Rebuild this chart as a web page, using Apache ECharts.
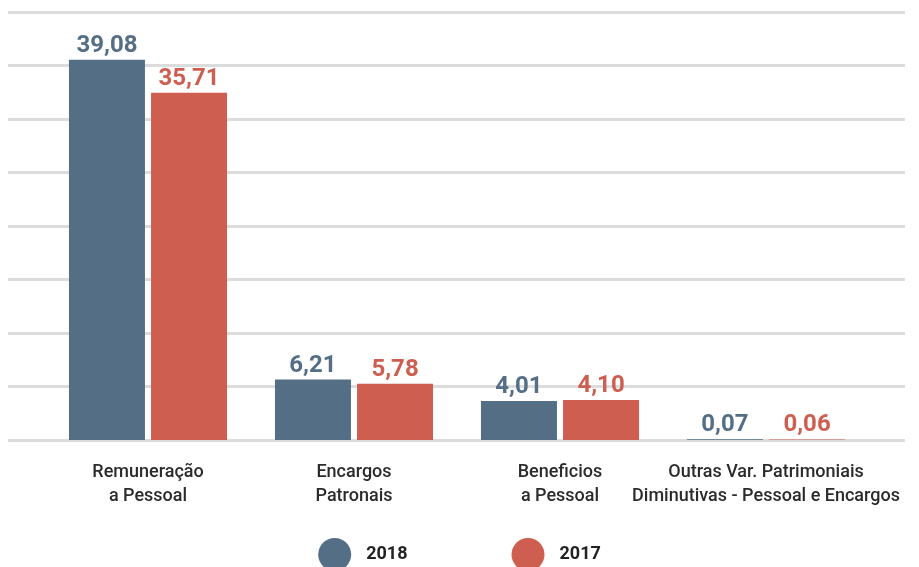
<!DOCTYPE html>
<html>
<head>
<meta charset="utf-8">
<script src="https://cdn.jsdelivr.net/npm/echarts@6/dist/echarts.min.js"></script>
<style>
  html, body { margin: 0; padding: 0; background: #fff; }
  #chart { width: 919px; height: 567px; }
</style>
</head>
<body>
<div id="chart"></div>
<script>
// categorias e valores (R$ bilhões)
var categorias = [
    'Remuneração\na Pessoal',
    'Encargos\nPatronais',
    'Beneficios\na Pessoal',
    'Outras Var. Patrimoniais\nDiminutivas - Pessoal e Encargos'
];
var anos = ['2018', '2017'];
var valores2018 = [39.08, 6.21, 4.01, 0.07];
var valores2017 = [35.71, 5.78, 4.10, 0.06];

var azul = '#546e86';
var vermelho = '#cd5e50';

function virgula(p) {
    return p.value.toFixed(2).replace('.', ',');
}

var myChart = echarts.init(document.getElementById('chart'));
var option = {
    backgroundColor: '#fff',
    animation: false,
    color: [azul, vermelho],
    legend: {
        data: anos,
        bottom: -9,
        left: 'center',
        icon: 'circle',
        itemWidth: 33,
        itemHeight: 33,
        itemGap: 104,
        textStyle: {
            fontFamily: 'Roboto', fontSize: 18, fontWeight: 'bold', color: '#222',
            padding: [0, 0, 0, 10]
        }
    },
    grid: [
        // grade principal com as barras
        { left: 45, width: 824, top: 12, height: 428 },
        // grade de fundo so para as linhas horizontais
        { left: 8, width: 897, top: 12, height: 428 }
    ],
    xAxis: [
        {
            type: 'category',
            gridIndex: 0,
            data: categorias,
            axisLine: { show: false },
            axisTick: { show: false },
            axisLabel: {
                interval: 0,
                margin: 20,
                fontFamily: 'Roboto',
                fontSize: 18,
                fontWeight: 500,
                lineHeight: 24,
                color: '#2b2b2b'
            }
        },
        {
            type: 'value',
            gridIndex: 1,
            show: false
        }
    ],
    yAxis: [
        {
            type: 'value',
            gridIndex: 0,
            min: 0,
            max: 44,
            interval: 5.5,
            show: false,
            splitLine: { show: false }
        },
        {
            type: 'value',
            gridIndex: 1,
            min: 0,
            max: 44,
            interval: 5.5,
            axisLine: { show: false },
            axisTick: { show: false },
            axisLabel: { show: false },
            splitLine: { show: true, lineStyle: { color: '#dcdcdc', width: 3 } }
        }
    ],
    series: [
        {
            name: anos[0],
            type: 'bar',
            xAxisIndex: 0,
            yAxisIndex: 0,
            z: 3,
            barWidth: 76,
            barGap: '8%',
            data: valores2018,
            label: {
                show: true,
                position: 'top',
                distance: 2,
                formatter: virgula,
                fontFamily: 'Roboto',
                fontSize: 24,
                fontWeight: 'bold',
                color: azul
            }
        },
        {
            name: anos[1],
            type: 'bar',
            xAxisIndex: 0,
            yAxisIndex: 0,
            z: 3,
            barWidth: 76,
            barGap: '8%',
            data: valores2017,
            label: {
                show: true,
                position: 'top',
                distance: 2,
                formatter: virgula,
                fontFamily: 'Roboto',
                fontSize: 24,
                fontWeight: 'bold',
                color: vermelho
            }
        }
    ]
};
myChart.setOption(option);
</script>
</body>
</html>
